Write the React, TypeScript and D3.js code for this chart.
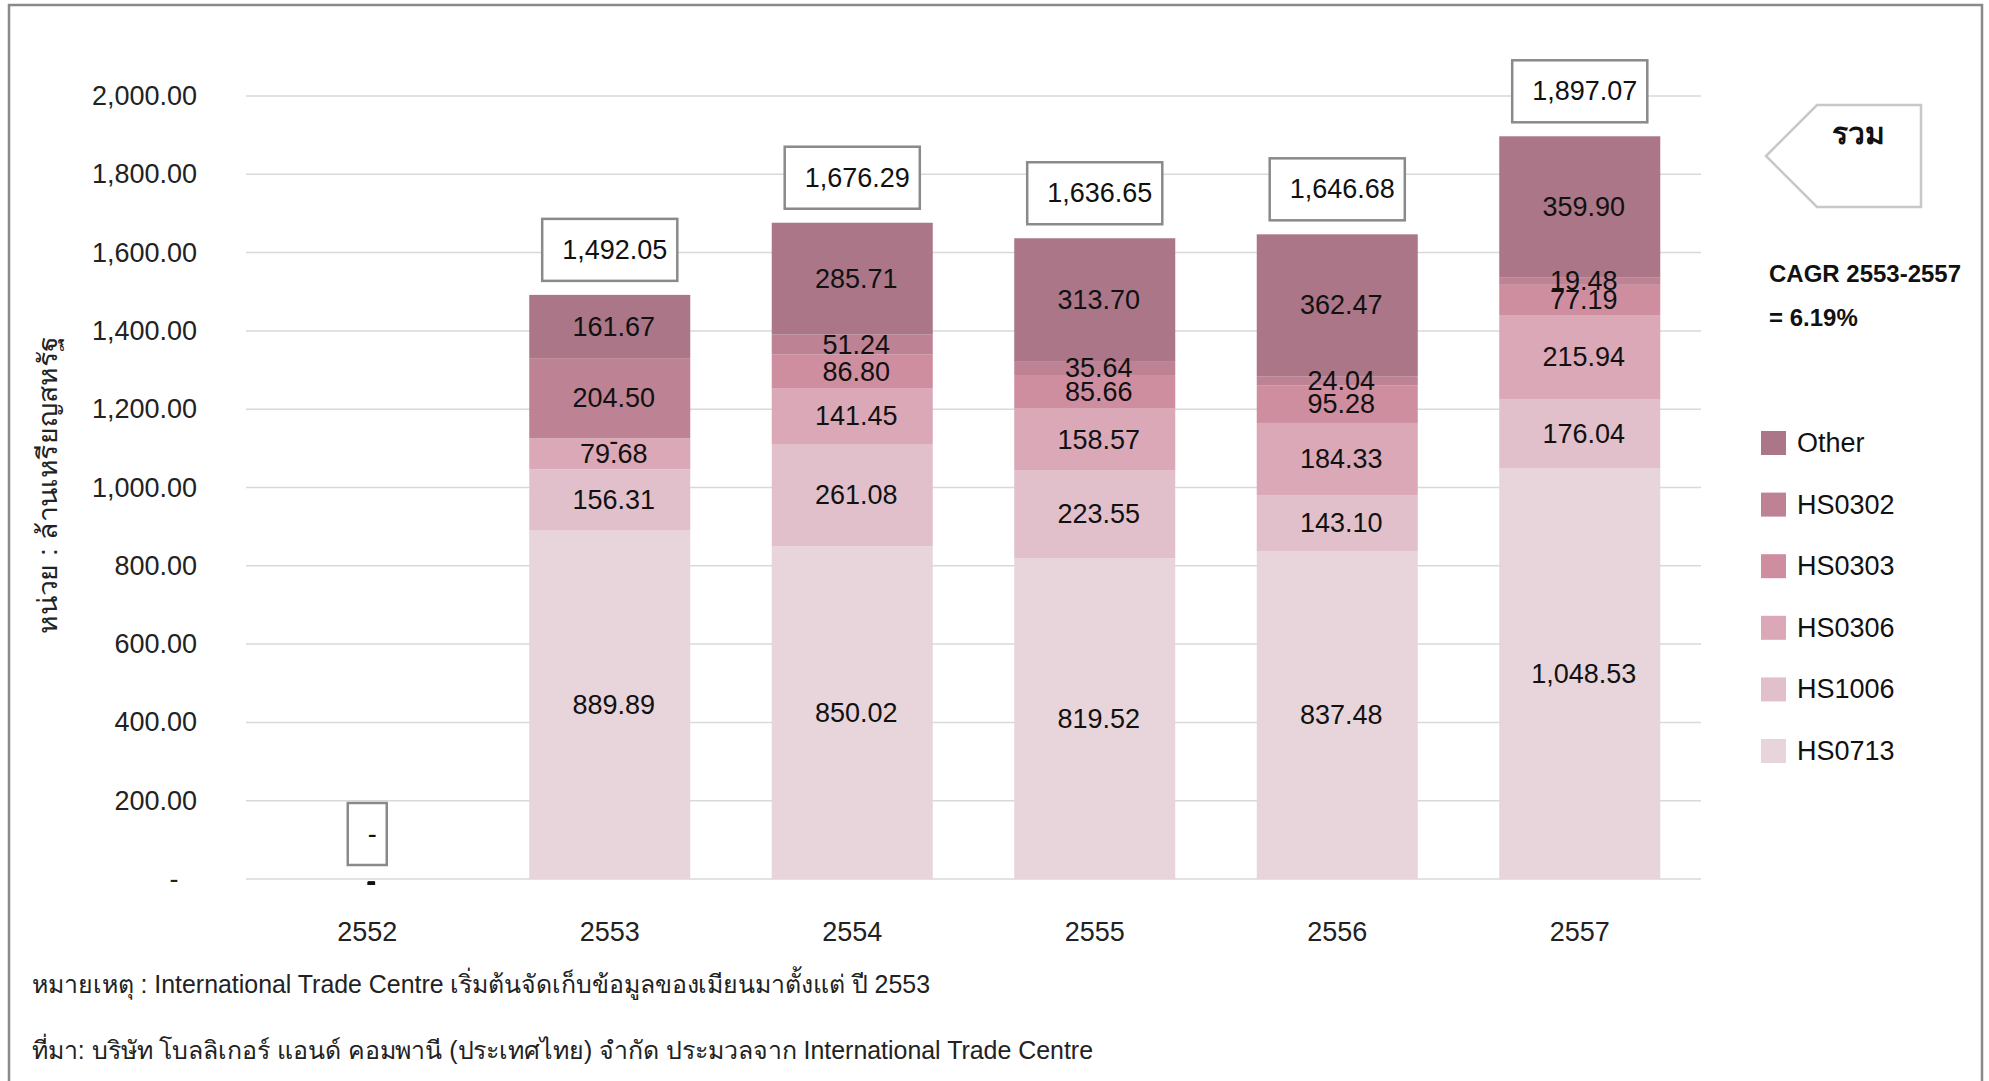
import React from "react";
import * as d3 from "d3";

const years = ["2552", "2553", "2554", "2555", "2556", "2557"];
const hs0713 = [0, 889.89, 850.02, 819.52, 837.48, 1048.53];
const hs1006 = [0, 156.31, 261.08, 223.55, 143.1, 176.04];
const hs0306 = [0, 79.68, 141.45, 158.57, 184.33, 215.94];
const hs0303 = [0, 0, 86.8, 85.66, 95.28, 77.19];
const hs0302 = [0, 204.5, 51.24, 35.64, 24.04, 19.48];
const other = [0, 161.67, 285.71, 313.7, 362.47, 359.9];
const totals = [0, 1492.05, 1676.29, 1636.65, 1646.68, 1897.07];
const yTicks = [0, 200, 400, 600, 800, 1000, 1200, 1400, 1600, 1800, 2000];

const seriesNames = ["HS0713", "HS1006", "HS0306", "HS0303", "HS0302", "Other"];
const seriesValues = [hs0713, hs1006, hs0306, hs0303, hs0302, other];
const seriesColors = ["#e8d4db", "#e2c0cb", "#daa8b7", "#cf8da0", "#bd8294", "#ab7687"];

const yTitle = "หน่วย : ล้านเหรียญสหรัฐ";
const note1 = "หมายเหตุ : International Trade Centre เริ่มต้นจัดเก็บข้อมูลของเมียนมาตั้งแต่ ปี 2553";
const note2 = "ที่มา: บริษัท โบลลิเกอร์ แอนด์ คอมพานี (ประเทศไทย) จำกัด ประมวลจาก International Trade Centre";
const arrowLabel = "รวม";
const cagr1 = "CAGR 2553-2557";
const cagr2 = "= 6.19%";

const FONT = "'Liberation Sans', Arial, sans-serif";
const fmt = d3.format(",.2f");
const lbl = (v: number) => (v === 0 ? "-" : fmt(v));

let ctx: CanvasRenderingContext2D | null = null;
function measure(text: string, size: number) {
  if (!ctx) ctx = document.createElement("canvas").getContext("2d");
  if (!ctx) return text.length * size * 0.55;
  ctx.font = `${size}px ${FONT}`;
  return ctx.measureText(text).width;
}

export default function App() {
  const W = 1989;
  const H = 1081;
  const x = d3.scaleBand<string>().domain(years).range([246, 1701]).padding(0);
  const y = d3.scaleLinear().domain([0, 2000]).range([879, 96]);
  const barW = x.bandwidth() * 0.664;

  const table = years.map((yr, i) => {
    const row: any = { year: yr };
    seriesNames.forEach((n, k) => (row[n] = seriesValues[k][i]));
    return row;
  });
  const stacked = d3.stack<any>().keys(seriesNames)(table);

  const legendOrder = [...seriesNames].reverse();

  return (
    <svg
      width={W}
      height={H}
      style={{ position: "absolute", left: 0, top: 0, background: "#fff" }}
      fontFamily={FONT}
    >
      <rect x={0} y={0} width={W} height={H} fill="#fff" />
      {/* outer frame */}
      <rect x={9} y={5} width={1973} height={1100} fill="none" stroke="#8a8a8a" strokeWidth={2.5} />

      {/* gridlines */}
      {yTicks.map((t) => (
        <line key={t} x1={246} x2={1701} y1={y(t)} y2={y(t)} stroke="#d9d9d9" strokeWidth={1.5} />
      ))}
      {/* y tick labels */}
      {yTicks.map((t) =>
        t === 0 ? (
          <text key={t} x={174} y={y(t)} dominantBaseline="central" textAnchor="middle" fontSize={27} fill="#222">
            -
          </text>
        ) : (
          <text key={t} x={197} y={y(t)} dominantBaseline="central" textAnchor="end" fontSize={27} fill="#222">
            {fmt(t)}
          </text>
        )
      )}

      {/* y title */}
      <text
        transform={`translate(48,485) rotate(-90)`}
        textAnchor="middle"
        dominantBaseline="central"
        fontSize={27}
        fill="#222"
        textLength={298}
        lengthAdjust="spacingAndGlyphs"
      >
        {yTitle}
      </text>

      {/* bars */}
      {stacked.map((s, k) => (
        <g key={s.key}>
          {s.map((d, i) => {
            const cx = (x(years[i]) as number) + x.bandwidth() / 2;
            return (
              <rect
                key={i}
                x={cx - barW / 2}
                y={y(d[1])}
                width={barW}
                height={Math.max(0, y(d[0]) - y(d[1]))}
                fill={seriesColors[k]}
              />
            );
          })}
        </g>
      ))}

      {/* segment labels */}
      {stacked.map((s, k) => (
        <g key={"l" + s.key}>
          {s.map((d, i) => {
            const cx = (x(years[i]) as number) + x.bandwidth() / 2 + 4;
            const v = seriesValues[k][i];
            const yc = y((d[0] + d[1]) / 2);
            return (
              <text
                key={i}
                x={cx}
                y={v === 0 ? yc + 3 : yc}
                textAnchor="middle"
                dominantBaseline="central"
                fontSize={27}
                fill="#111"
                fontWeight={v === 0 && i === 0 ? 700 : 400}
              >
                {lbl(v)}
              </text>
            );
          })}
        </g>
      ))}

      {/* total boxes */}
      {totals.map((t, i) => {
        const cx = (x(years[i]) as number) + x.bandwidth() / 2;
        const text = lbl(t);
        const tw = measure(text, 27);
        const bw = tw + 30;
        const bottom = y(t) - 14;
        const top = bottom - 62;
        return (
          <g key={"t" + i}>
            <rect x={cx - bw / 2} y={top} width={bw} height={62} fill="#fff" stroke="#8a8a8a" strokeWidth={2.5} />
            <text x={cx + 5} y={top + 31} textAnchor="middle" dominantBaseline="central" fontSize={27} fill="#111">
              {text}
            </text>
          </g>
        );
      })}

      {/* category labels */}
      {years.map((yr) => (
        <text
          key={yr}
          x={(x(yr) as number) + x.bandwidth() / 2}
          y={932}
          textAnchor="middle"
          dominantBaseline="central"
          fontSize={27}
          fill="#222"
        >
          {yr}
        </text>
      ))}

      {/* arrow box */}
      <polygon
        points="1766,156 1817,105 1921,105 1921,207 1817,207"
        fill="#fff"
        stroke="#c8c8c8"
        strokeWidth={2.5}
      />
      <text x={1858} y={133} textAnchor="middle" dominantBaseline="central" fontSize={30} fontWeight={700} fill="#111">
        {arrowLabel}
      </text>
      <text x={1769} y={273} dominantBaseline="central" fontSize={24} fontWeight={700} fill="#111" textLength={192} lengthAdjust="spacingAndGlyphs">
        {cagr1}
      </text>
      <text x={1769} y={317} dominantBaseline="central" fontSize={24} fontWeight={700} fill="#111">
        {cagr2}
      </text>

      {/* legend */}
      {legendOrder.map((n, j) => {
        const k = seriesNames.indexOf(n);
        const cy = 443 + j * 61.6;
        return (
          <g key={n}>
            <rect x={1761} y={cy - 12} width={25} height={24} fill={seriesColors[k]} />
            <text x={1797} y={cy} dominantBaseline="central" fontSize={27} fill="#111">
              {n}
            </text>
          </g>
        );
      })}

      {/* notes */}
      <text x={32} y={984} dominantBaseline="central" fontSize={25} fill="#222" textLength={898} lengthAdjust="spacingAndGlyphs">
        {note1}
      </text>
      <text x={32} y={1050} dominantBaseline="central" fontSize={25} fill="#222" textLength={1061} lengthAdjust="spacingAndGlyphs">
        {note2}
      </text>
    </svg>
  );
}
